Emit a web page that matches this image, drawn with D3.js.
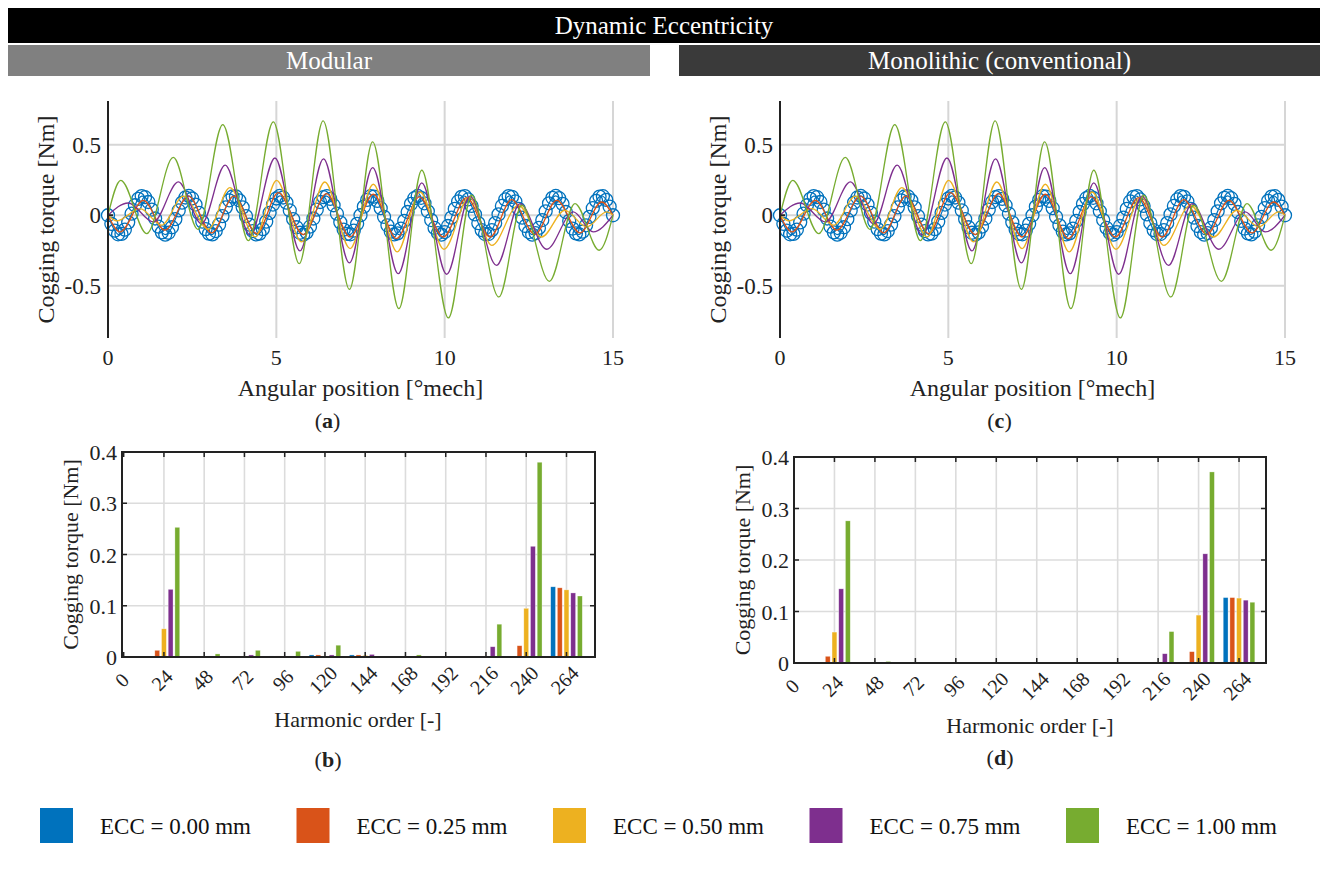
<!DOCTYPE html>
<html>
<head>
<meta charset="utf-8">
<script src="https://d3js.org/d3.v7.min.js"></script>
<style>
  body { margin: 0; background: #fff; }
  svg text { font-family: "Liberation Serif", "Times New Roman", serif; fill: #222; }
</style>
</head>
<body>
<script>
// ---- data ----
var seriesNames = ["ECC = 0.00 mm", "ECC = 0.25 mm", "ECC = 0.50 mm", "ECC = 0.75 mm", "ECC = 1.00 mm"];
var colors = ["#0072BD", "#D95319", "#EDB120", "#7E2F8E", "#77AC30"];

// cogging torque waveform, ECC = 0.00 mm, sampled every 0.1 deg (markers)
var blueStep = 0.1;
var torque000 = [0,-0.061,-0.109,-0.135,-0.132,-0.102,-0.050,0.011,0.071,0.116,0.136,0.128,0.094,0.040,-0.023,
  -0.081,-0.121,-0.137,-0.124,-0.085,-0.028,0.034,0.090,0.126,0.137,0.119,0.076,0.017,-0.045,-0.098,
  -0.130,-0.136,-0.112,-0.066,-0.006,0.056,0.106,0.133,0.133,0.106,0.056,-0.006,-0.066,-0.112,-0.136,
  -0.130,-0.098,-0.045,0.017,0.076,0.119,0.137,0.126,0.090,0.034,-0.028,-0.085,-0.124,-0.137,-0.121,
  -0.081,-0.023,0.040,0.094,0.128,0.136,0.116,0.071,0.011,-0.050,-0.102,-0.132,-0.135,-0.109,-0.061,
  0,0.061,0.109,0.135,0.132,0.102,0.050,-0.011,-0.071,-0.116,-0.136,-0.128,-0.094,-0.040,0.023,
  0.081,0.121,0.137,0.124,0.085,0.028,-0.034,-0.090,-0.126,-0.137,-0.119,-0.076,-0.017,0.045,0.098,
  0.130,0.136,0.112,0.066,0.006,-0.056,-0.106,-0.133,-0.133,-0.106,-0.056,0.006,0.066,0.112,0.136,
  0.130,0.098,0.045,-0.017,-0.076,-0.119,-0.137,-0.126,-0.090,-0.034,0.028,0.085,0.124,0.137,0.121,
  0.081,0.023,-0.040,-0.094,-0.128,-0.136,-0.116,-0.071,-0.011,0.050,0.102,0.132,0.135,0.109,0.061,0];

// [angle deg, torque Nm] at the waveform turning points
var wave025 = [[0,0],[0.36,-0.118],[1.05,0.106],[1.69,-0.106],[2.39,0.135],[3.08,-0.125],[3.74,0.135],[4.42,-0.13],
  [5.06,0.161],[5.80,-0.137],[6.49,0.154],[7.19,-0.154],[7.88,0.149],[8.57,-0.165],[9.25,0.13],[9.96,-0.154],
  [10.65,0.125],[11.35,-0.154],[11.99,0.111],[12.68,-0.135],[13.33,0.106],[14.02,-0.125],[14.66,0.094],[15,0]];
var wave050 = [[0,0],[0.26,-0.04],[0.95,0.047],[1.59,-0.07],[2.24,0.135],[2.98,-0.10],[3.62,0.196],[4.37,-0.154],
  [5.01,0.248],[5.75,-0.189],[6.44,0.236],[7.19,-0.236],[7.88,0.22],[8.59,-0.26],[9.27,0.165],[9.98,-0.241],
  [10.73,0.13],[11.40,-0.213],[12.19,0.071],[12.88,-0.154],[13.57,0.035],[14.22,-0.083],[14.81,0.024],[15,0]];
var wave075 = [[0,0],[0.6,0.087],[1.35,-0.047],[2.09,0.236],[2.78,-0.06],[3.48,0.355],[4.22,-0.14],[4.96,0.406],
  [5.70,-0.253],[6.40,0.40],[7.17,-0.338],[7.86,0.338],[8.62,-0.414],[9.32,0.229],[10.06,-0.418],[10.75,0.135],
  [11.54,-0.355],[12.24,0.083],[13.03,-0.241],[13.82,0.024],[14.41,-0.118],[15,0]];
var wave100 = [[0,0],[0.38,0.248],[1.15,-0.13],[1.94,0.41],[2.67,-0.1],[3.41,0.643],[4.17,-0.18],[4.91,0.662],
  [5.68,-0.343],[6.39,0.669],[7.17,-0.525],[7.86,0.52],[8.64,-0.662],[9.32,0.319],[10.11,-0.728],[10.80,0.142],
  [11.61,-0.579],[12.29,0.071],[13.11,-0.468],[13.87,0.083],[14.59,-0.248],[15,0]];

// harmonic spectra
var harmonics = [0, 24, 48, 72, 96, 120, 144, 168, 192, 216, 240, 264];
var modular000 = [0, 0.001, 0, 0.001, 0.002, 0.004, 0.004, 0.001, 0, 0, 0.001, 0.137];
var modular025 = [0, 0.013, 0, 0, 0.002, 0.004, 0.004, 0, 0, 0, 0.022, 0.135];
var modular050 = [0, 0.055, 0, 0.001, 0, 0.002, 0.003, 0, 0, 0.002, 0.095, 0.131];
var modular075 = [0, 0.132, 0.002, 0.004, 0.002, 0.004, 0.005, 0.001, 0, 0.020, 0.216, 0.125];
var modular100 = [0.001, 0.253, 0.006, 0.013, 0.011, 0.023, 0.001, 0.004, 0.001, 0.064, 0.380, 0.119];
var mono000 = [0, 0, 0, 0, 0, 0, 0, 0, 0, 0, 0, 0.127];
var mono025 = [0, 0.013, 0, 0, 0, 0, 0, 0, 0, 0, 0.022, 0.127];
var mono050 = [0, 0.060, 0, 0, 0, 0, 0, 0, 0, 0.002, 0.093, 0.126];
var mono075 = [0, 0.144, 0, 0, 0, 0, 0, 0, 0, 0.018, 0.212, 0.122];
var mono100 = [0, 0.276, 0.003, 0, 0, 0, 0, 0, 0, 0.061, 0.371, 0.118];

var angleTicks = [0, 5, 10, 15];
var torqueTicks = [-0.5, 0, 0.5];
var torqueTickLabels = ["-0.5", "0", "0.5"];
var barTicks = [0, 0.1, 0.2, 0.3, 0.4];

// ---- page ----
var FONT = "'Liberation Serif', 'Times New Roman', serif";
var svg = d3.select("body").append("svg").attr("width", 1320).attr("height", 870)
  .attr("font-family", FONT);

function txt(sel, size) {
  return sel.append("text").attr("font-family", FONT).style("font-family", FONT)
    .style("font-size", size + "px");
}

function banner(x, y, w, h, fill, label, size) {
  svg.append("rect").attr("x", x).attr("y", y).attr("width", w).attr("height", h).attr("fill", fill);
  txt(svg, size).attr("x", x + w / 2).attr("y", y + h / 2 + size * 0.35)
    .attr("text-anchor", "middle").style("fill", "#fff").text(label);
}
banner(8, 8, 1312, 35, "#000", "Dynamic Eccentricity", 25);
banner(8, 45, 642, 31, "#808080", "Modular", 25);
banner(679, 45, 641, 31, "#3a3a3a", "Monolithic (conventional)", 25);

function panelLabel(cx, y, letter) {
  var t = txt(svg, 22).attr("x", cx).attr("y", y).attr("text-anchor", "middle");
  t.append("tspan").text("(");
  t.append("tspan").style("font-weight", "bold").text(letter);
  t.append("tspan").text(")");
}

function linePlot(left, right, top, bottom, letter) {
  var x = d3.scaleLinear().domain([0, 15]).range([left, right]);
  var y = d3.scaleLinear().domain([-0.87, 0.81]).range([bottom, top]);
  var g = svg.append("g");

  // grid
  g.selectAll(".gx").data(angleTicks.slice(1)).enter().append("line")
    .attr("x1", function(d) { return x(d); }).attr("x2", function(d) { return x(d); })
    .attr("y1", top).attr("y2", bottom).attr("stroke", "#d6d6d6").attr("stroke-width", 2);
  g.selectAll(".gy").data(torqueTicks).enter().append("line")
    .attr("x1", left).attr("x2", right)
    .attr("y1", function(d) { return y(d); }).attr("y2", function(d) { return y(d); })
    .attr("stroke", "#d6d6d6").attr("stroke-width", 2);

  // series
  var blue = torque000.map(function(v, i) { return [i * blueStep, v]; });
  var line = d3.line().x(function(d) { return x(d[0]); }).y(function(d) { return y(d[1]); });
  g.append("path").datum(blue).attr("fill", "none").attr("stroke", colors[0]).attr("stroke-width", 1.2)
    .attr("d", line.curve(d3.curveCatmullRom));
  g.selectAll(".mk").data(blue).enter().append("circle")
    .attr("cx", function(d) { return x(d[0]); }).attr("cy", function(d) { return y(d[1]); })
    .attr("r", 6.5).attr("fill", "none").attr("stroke", colors[0]).attr("stroke-width", 1.3);
  [wave025, wave050, wave075, wave100].forEach(function(w, i) {
    g.append("path").datum(w).attr("fill", "none").attr("stroke", colors[i + 1]).attr("stroke-width", 1.3)
      .attr("d", line.curve(d3.curveMonotoneX));
  });

  // axes
  g.append("line").attr("x1", left).attr("x2", left).attr("y1", top).attr("y2", bottom)
    .attr("stroke", "#222").attr("stroke-width", 2);
  g.append("line").attr("x1", left).attr("x2", left + 5).attr("y1", y(0)).attr("y2", y(0))
    .attr("stroke", "#222").attr("stroke-width", 2);
  torqueTicks.forEach(function(d, i) {
    txt(g, 23).attr("x", left - 7).attr("y", y(d) + 8).attr("text-anchor", "end").text(torqueTickLabels[i]);
  });
  angleTicks.forEach(function(d) {
    txt(g, 22).attr("x", x(d)).attr("y", bottom + 27).attr("text-anchor", "middle").text(d);
  });
  txt(g, 24).attr("transform", "translate(" + (left - 54) + "," + ((top + bottom) / 2) + ") rotate(-90)")
    .attr("text-anchor", "middle").text("Cogging torque [Nm]");
  txt(g, 24).attr("x", (left + right) / 2).attr("y", bottom + 58)
    .attr("text-anchor", "middle").text("Angular position [°mech]");
  panelLabel((left + right) / 2 - 33, bottom + 90, letter);
}

function barPlot(left, right, top, bottom, xdom, data, letter, xlabY, labCx, labY) {
  var x = d3.scaleLinear().domain(xdom).range([left, right]);
  var y = d3.scaleLinear().domain([0, 0.4]).range([bottom, top]);
  var inner = d3.scaleBand().domain(d3.range(5)).range([-15.8, 15.8]).paddingInner(0.28);
  var g = svg.append("g");

  g.selectAll(".gx").data(harmonics.slice(1)).enter().append("line")
    .attr("x1", function(d) { return x(d); }).attr("x2", function(d) { return x(d); })
    .attr("y1", top).attr("y2", bottom).attr("stroke", "#dcdcdc").attr("stroke-width", 1.6);
  g.selectAll(".gy").data(barTicks.slice(1, 4)).enter().append("line")
    .attr("x1", left).attr("x2", right)
    .attr("y1", function(d) { return y(d); }).attr("y2", function(d) { return y(d); })
    .attr("stroke", "#dcdcdc").attr("stroke-width", 1.6);

  data.forEach(function(vals, s) {
    g.selectAll(".b" + s).data(vals).enter().append("rect")
      .attr("x", function(d, i) { return x(harmonics[i]) + inner(s); })
      .attr("width", inner.bandwidth())
      .attr("y", function(d) { return y(d); })
      .attr("height", function(d) { return bottom - y(d); })
      .attr("fill", colors[s]).attr("stroke", "#fff").attr("stroke-opacity", 0.5).attr("stroke-width", 0.6);
  });

  // ticks (inward) on all four sides
  harmonics.forEach(function(h) {
    g.append("line").attr("x1", x(h)).attr("x2", x(h)).attr("y1", bottom).attr("y2", bottom - 5)
      .attr("stroke", "#222").attr("stroke-width", 1.5);
    g.append("line").attr("x1", x(h)).attr("x2", x(h)).attr("y1", top).attr("y2", top + 5)
      .attr("stroke", "#222").attr("stroke-width", 1.5);
  });
  barTicks.forEach(function(t) {
    g.append("line").attr("x1", left).attr("x2", left + 5).attr("y1", y(t)).attr("y2", y(t))
      .attr("stroke", "#222").attr("stroke-width", 1.5);
    g.append("line").attr("x1", right).attr("x2", right - 5).attr("y1", y(t)).attr("y2", y(t))
      .attr("stroke", "#222").attr("stroke-width", 1.5);
  });
  g.append("rect").attr("x", left).attr("y", top).attr("width", right - left).attr("height", bottom - top)
    .attr("fill", "none").attr("stroke", "#222").attr("stroke-width", 2);

  barTicks.forEach(function(d) {
    txt(g, 22).attr("x", left - 5).attr("y", y(d) + 8).attr("text-anchor", "end").text(d);
  });
  harmonics.forEach(function(d) {
    txt(g, 20).attr("transform", "translate(" + (x(d) + 3) + "," + (bottom + 28) + ") rotate(-45)")
      .attr("text-anchor", "middle").text(d);
  });
  txt(g, 22).attr("transform", "translate(" + (left - 44) + "," + ((top + bottom) / 2) + ") rotate(-90)")
    .attr("text-anchor", "middle").text("Cogging torque [Nm]");
  txt(g, 22).attr("x", labCx).attr("y", xlabY)
    .attr("text-anchor", "middle").text("Harmonic order [-]");
  panelLabel(labCx - 30, labY, letter);
}

linePlot(108, 613, 101, 338, "a");
linePlot(780, 1285, 101, 338, "c");
barPlot(122, 595, 452, 657, [-1, 281], [modular000, modular025, modular050, modular075, modular100], "b", 727, 358, 767);
barPlot(794, 1266, 457, 663, [0, 280], [mono000, mono025, mono050, mono075, mono100], "d", 733, 1030, 765);

// legend
var leg = svg.append("g");
seriesNames.forEach(function(name, i) {
  var lx = 40 + i * 256.5;
  leg.append("rect").attr("x", lx).attr("y", 808).attr("width", 33).attr("height", 35).attr("fill", colors[i]);
  txt(leg, 23).attr("x", lx + 60).attr("y", 834).style("fill", "#111").text(name);
});
</script>
</body>
</html>
